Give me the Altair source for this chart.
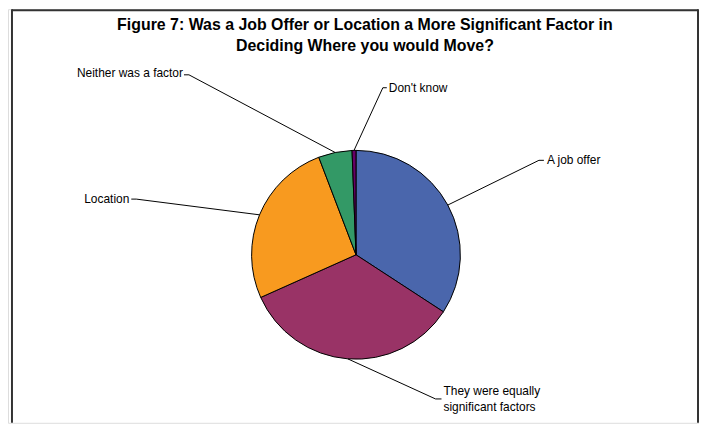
import math
import altair as alt
import pandas as pd

# ---- data ----
categories = [
    "A job offer",
    "They were equally significant factors",
    "Location",
    "Neither was a factor",
    "Don't know",
]
values = [34.2, 34.1, 25.9, 5.2, 0.6]
colors = ["#4A66AC", "#993366", "#F89A1F", "#339966", "#660066"]
label_lines = [
    ["A job offer"],
    ["They were equally", "significant factors"],
    ["Location"],
    ["Neither was a factor"],
    ["Don't know"],
]
title_lines = [
    "Figure 7: Was a Job Offer or Location a More Significant Factor in",
    "Deciding Where you would Move?",
]

# ---- layout (page pixel coordinates) ----
OX, OY = 8, 8
W, H = 695, 416
CX, CY, R = 358, 255, 105
# elbow point, stub end, text x, text alignment, first-line y
label_layout = [
    dict(ex=542, ey=160, sx=547, tx=550, align="left", ty=160),
    dict(ex=438, ey=400, sx=444, tx=446, align="left", ty=392),
    dict(ex=137, ey=199, sx=132, tx=130, align="right", ty=199),
    dict(ex=190, ey=74, sx=185, tx=184, align="right", ty=72),
    dict(ex=385, ey=87, sx=389, tx=391, align="left", ty=87),
]
FONT = "Liberation Sans"

pie_df = pd.DataFrame({"category": categories, "value": values, "order": range(len(values))})

total = sum(values)
seg_rows, text_rows = [], []
cum = 0.0
for i, (cat, v) in enumerate(zip(categories, values)):
    mid = (cum + v / 2) / total * 2 * math.pi
    cum += v
    px = CX + R * math.sin(mid)
    py = CY - R * math.cos(mid)
    L = label_layout[i]
    seg_rows.append(dict(x=px, y=py, x2=L["ex"], y2=L["ey"]))
    seg_rows.append(dict(x=L["ex"], y=L["ey"], x2=L["sx"], y2=L["ey"]))
    for j, line in enumerate(label_lines[i]):
        text_rows.append(dict(x=L["tx"], y=L["ty"] + 16 * j, text=line, align=L["align"]))
seg_df = pd.DataFrame(seg_rows)
text_df = pd.DataFrame(text_rows)

xs = alt.Scale(domain=[OX, OX + W], nice=False, zero=False)
ys = alt.Scale(domain=[OY, OY + H], nice=False, zero=False, reverse=True)

pie = alt.Chart(pie_df).mark_arc(
    outerRadius=R, stroke="black", strokeWidth=1
).encode(
    theta=alt.Theta("value:Q", stack=True),
    order=alt.Order("order:Q"),
    color=alt.Color("category:N", scale=alt.Scale(domain=categories, range=colors), legend=None),
    x=alt.value(CX - OX),
    y=alt.value(CY - OY),
)

segs = alt.Chart(seg_df).mark_rule(color="black", strokeWidth=1).encode(
    x=alt.X("x:Q", scale=xs, axis=None),
    y=alt.Y("y:Q", scale=ys, axis=None),
    x2="x2:Q",
    y2="y2:Q",
)

left_txt = alt.Chart(text_df[text_df["align"] == "left"]).mark_text(
    align="left", baseline="middle", font=FONT, fontSize=12, color="black"
).encode(x=alt.X("x:Q", scale=xs, axis=None), y=alt.Y("y:Q", scale=ys, axis=None), text="text:N")

right_txt = alt.Chart(text_df[text_df["align"] == "right"]).mark_text(
    align="right", baseline="middle", font=FONT, fontSize=12, color="black"
).encode(x=alt.X("x:Q", scale=xs, axis=None), y=alt.Y("y:Q", scale=ys, axis=None), text="text:N")

title_df = pd.DataFrame({"x": [367, 367], "y": [24, 45], "text": title_lines})
title = alt.Chart(title_df).mark_text(
    align="center", baseline="middle", font=FONT, fontSize=16, fontWeight="bold", color="black"
).encode(x=alt.X("x:Q", scale=xs, axis=None), y=alt.Y("y:Q", scale=ys, axis=None), text="text:N")

frame_color = "#333333"
frame_top = alt.Chart(pie_df.head(1)).mark_rule(color=frame_color, strokeWidth=2).encode(
    x=alt.value(12 - OX), x2=alt.value(702 - OX), y=alt.value(1)
)
frame_left = alt.Chart(pie_df.head(1)).mark_rule(color=frame_color, strokeWidth=2).encode(
    x=alt.value(12 - OX), y=alt.value(0), y2=alt.value(H)
)
frame_right = alt.Chart(pie_df.head(1)).mark_rule(color=frame_color, strokeWidth=2).encode(
    x=alt.value(702 - OX), y=alt.value(0), y2=alt.value(H)
)

chart = alt.layer(
    frame_top, frame_left, frame_right, pie, segs, left_txt, right_txt, title
).properties(
    width=W, height=H, padding=0, autosize=alt.AutoSizeParams(type="none")
).configure_view(stroke=None).configure(background="white")

chart.save("out.html", embed_options={"renderer": "svg", "actions": False})
